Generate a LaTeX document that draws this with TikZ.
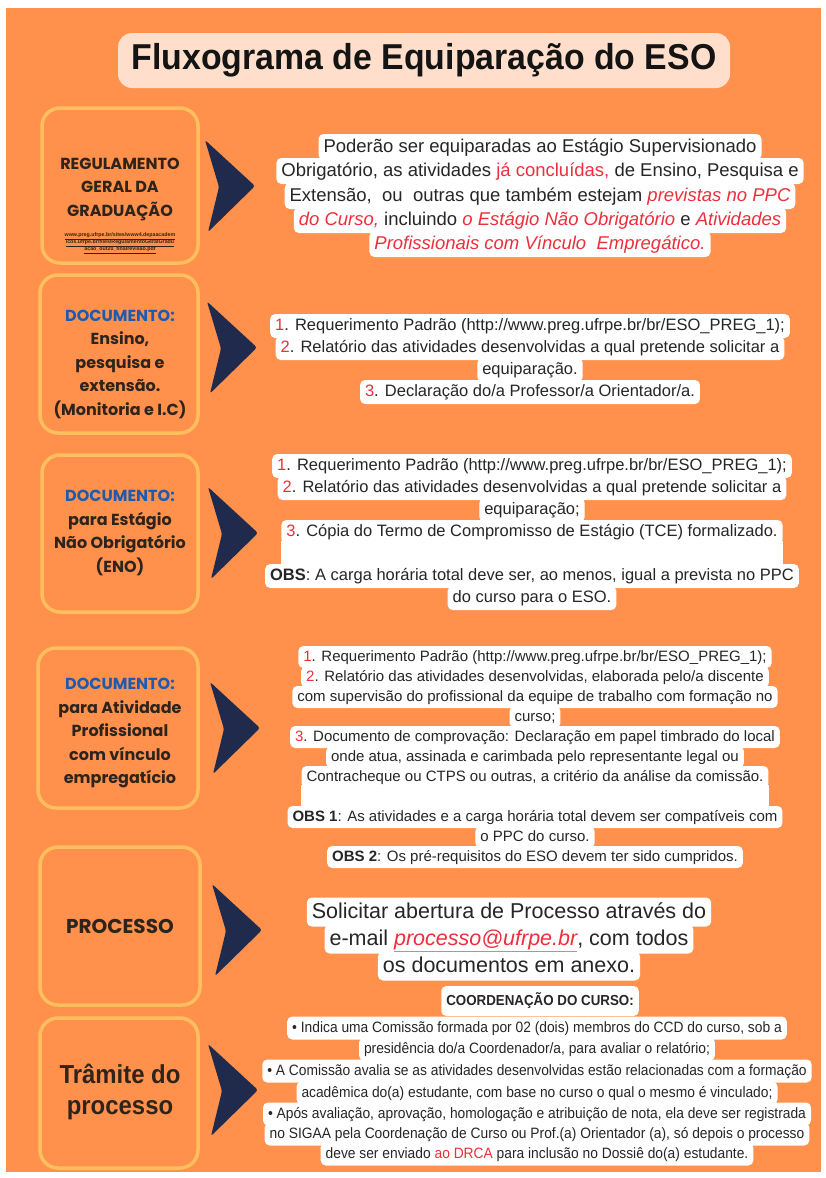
\documentclass[tikz,border=0pt]{standalone}
\usepackage{fontspec}
\setmainfont{Liberation Sans}
\newfontfamily\labfont{Poppins}
\newfontfamily\condfont[FakeStretch=0.92]{Liberation Sans}
\newfontfamily\titlefont[FakeStretch=0.94]{Liberation Sans}
\definecolor{bg}{HTML}{FF914D}
\definecolor{bord}{HTML}{FFBF5E}
\definecolor{navy}{HTML}{1F2A4D}
\definecolor{txt}{HTML}{262626}
\definecolor{labc}{HTML}{2E241C}
\definecolor{blu}{HTML}{1C5BAF}
\definecolor{rd}{HTML}{EC2F3C}
\definecolor{ttl}{HTML}{FFDFCB}
\newcommand\chev[2]{\fill[navy, rounded corners=2.5pt] (#1,#2-46) -- (#1+50,#2) -- (#1+3,#2+46) -- (#1+14,#2+1) -- cycle;}
\begin{document}
\begin{tikzpicture}[x=1pt,y=-1pt,
 lbox/.style={draw=bord, line width=3.5pt, fill=bg, rounded corners=18pt, inner sep=0pt},
 lab/.style={text=labc, align=center, font=\labfont\bfseries\fontsize{16}{23.5}\selectfont},
 hl/.style={fill=white, rounded corners=5pt, inner xsep=5pt, inner ysep=0pt, text=txt},
 t1/.style={hl, font=\fontsize{18.5}{24}\selectfont, minimum height=26pt, text height=13pt, text depth=2pt},
 t2/.style={hl, font=\fontsize{16.5}{22}\selectfont, minimum height=24pt, text height=11.5pt, text depth=1.6pt},
 t4/.style={hl, font=\fontsize{15}{20}\selectfont, minimum height=22pt, text height=10.5pt, text depth=1.5pt},
 t5/.style={hl, font=\fontsize{21.5}{27}\selectfont, minimum height=29pt, text height=15pt, text depth=2.2pt},
 t6/.style={hl, font=\condfont\fontsize{15}{21}\selectfont, minimum height=23pt, text height=10.5pt, text depth=1.5pt}
]
\useasboundingbox (0,0) rectangle (826,1178);
\fill[white] (0,0) rectangle (826,1178);
\fill[bg] (6,8) rectangle (821,1172);

% title
\node[fill=ttl, rounded corners=14pt, minimum width=612pt, minimum height=55pt, inner sep=0pt,
      font=\titlefont\bfseries\fontsize{36}{40}\selectfont, text=black!92] (title) at (424,60.5) {Fluxograma de Equiparação do ESO};

% left boxes
\node[lbox, minimum width=156pt, minimum height=155pt] (b1) at (120,185.5) {};
\node[lbox, minimum width=158pt, minimum height=158pt] (b2) at (119,354) {};
\node[lbox, minimum width=156pt, minimum height=157pt] (b3) at (120,533.5) {};
\node[lbox, minimum width=160pt, minimum height=160pt] (b4) at (118,728) {};
\node[lbox, minimum width=160pt, minimum height=158pt] (b5) at (120,926) {};
\node[lbox, minimum width=158pt, minimum height=150pt] (b6) at (119,1093) {};

\node[lab] (l1) at (120,189) {REGULAMENTO\\GERAL DA\\GRADUAÇÃO};
\node[text=labc, align=center, font=\bfseries\fontsize{5.3}{7}\selectfont] (url) at (120,243)
 {\underline{www.preg.ufrpe.br/sites/www4.depaacadem}\\\underline{icos.ufrpe.br/files/RegulamentoGeralGradu}\\\underline{acao\_out20\_finalrevisao.pdf}};
\node[lab] (l2) at (120,364) {\textcolor{blu}{DOCUMENTO:}\\Ensino,\\pesquisa e\\extensão.\\(Monitoria e I.C)};
\node[lab] (l3) at (120,533) {\textcolor{blu}{DOCUMENTO:}\\para Estágio\\Não Obrigatório\\(ENO)};
\node[lab] (l4) at (120,733) {\textcolor{blu}{DOCUMENTO:}\\para Atividade\\Profissional\\com vínculo\\empregatício};
\node[lab, font=\labfont\bfseries\fontsize{20}{24}\selectfont] (l5) at (120,926) {PROCESSO};
\node[lab, font=\condfont\bfseries\fontsize{26}{31}\selectfont] (l6) at (120,1092) {Trâmite do\\processo};

% arrows
\chev{205}{186}
\chev{207}{347.5}
\chev{208}{533}
\chev{210}{728}
\chev{212}{930}
\chev{208}{1090}

% text 1
\node[t1] (p1) at (540,147) {Poderão ser equiparadas ao Estágio Supervisionado};
\node[t1] (p2) at (540,171) {Obrigatório, as atividades \textcolor{rd}{já concluídas,} de Ensino, Pesquisa e};
\node[t1] (p3) at (540,196) {Extensão,\ \ ou\ \ outras que também estejam \textcolor{rd}{\itshape previstas no PPC}};
\node[t1] (p4) at (540,220) {\textcolor{rd}{\itshape do Curso,} incluindo \textcolor{rd}{\itshape o Estágio Não Obrigatório} e \textcolor{rd}{\itshape Atividades}};
\node[t1] (p5) at (540,244) {\textcolor{rd}{\itshape Profissionais com Vínculo\ \ Empregático.}};

% text 2
\node[t2] (q1) at (530,326) {\textcolor{rd}{1}. Requerimento Padrão (http://www.preg.ufrpe.br/br/ESO\_PREG\_1);};
\node[t2] (q2) at (530,348) {\textcolor{rd}{2}. Relatório das atividades desenvolvidas a qual pretende solicitar a};
\node[t2] (q3) at (530,370) {equiparação.};
\node[t2] (q4) at (530,392) {\textcolor{rd}{3}. Declaração do/a Professor/a Orientador/a.};

% text 3
\node[t2] (c1) at (532,466) {\textcolor{rd}{1}. Requerimento Padrão (http://www.preg.ufrpe.br/br/ESO\_PREG\_1);};
\node[t2] (c2) at (532,488) {\textcolor{rd}{2}. Relatório das atividades desenvolvidas a qual pretende solicitar a};
\node[t2] (c3) at (532,510) {equiparação;};
\node[t2] (c4) at (532,532) {\textcolor{rd}{3}. Cópia do Termo de Compromisso de Estágio (TCE) formalizado.};
\node[t2] (c6) at (532,576) {\textbf{OBS}: A carga horária total deve ser, ao menos, igual a prevista no PPC};
\node[t2] (c7) at (532,598) {do curso para o ESO.};
\fill[white] ([yshift=3pt]c4.south west) rectangle ([yshift=-3pt]c4.east |- c6.north);

% text 4
\node[t4] (d1) at (535,657) {\textcolor{rd}{1}. Requerimento Padrão (http://www.preg.ufrpe.br/br/ESO\_PREG\_1);};
\node[t4] (d2) at (535,677) {\textcolor{rd}{2}. Relatório das atividades desenvolvidas, elaborada pelo/a discente};
\node[t4] (d3) at (535,697) {com supervisão do profissional da equipe de trabalho com formação no};
\node[t4] (d4) at (535,717) {curso;};
\node[t4] (d5) at (535,737) {\textcolor{rd}{3}. Documento de comprovação: Declaração em papel timbrado do local};
\node[t4] (d6) at (535,757) {onde atua, assinada e carimbada pelo representante legal ou};
\node[t4] (d7) at (535,777) {Contracheque ou CTPS ou outras, a critério da análise da comissão.};
\node[t4] (d9) at (535,817) {\textbf{OBS 1}: As atividades e a carga horária total devem ser compatíveis com};
\node[t4] (d10) at (535,837) {o PPC do curso.};
\node[t4] (d11) at (535,857) {\textbf{OBS 2}: Os pré-requisitos do ESO devem ter sido cumpridos.};
\fill[white] ([yshift=3pt]d7.south west) rectangle ([yshift=-3pt]d7.east |- d9.north);

% text 5
\node[t5] (e1) at (509,912) {Solicitar abertura de Processo através do};
\node[t5] (e2) at (509,939) {e-mail \textcolor{rd}{\underline{\itshape processo@ufrpe.br}}, com todos};
\node[t5] (e3) at (509,966) {os documentos em anexo.};

% text 6
\node[t6, minimum height=30pt, font=\condfont\bfseries\fontsize{14.5}{21}\selectfont] (f0) at (540,1001) {COORDENAÇÃO DO CURSO:};
\node[t6] (f1) at (537,1028) {• Indica uma Comissão formada por 02 (dois) membros do CCD do curso, sob a};
\node[t6] (f2) at (537,1049) {presidência do/a Coordenador/a, para avaliar o relatório;};
\node[t6] (f3) at (537,1071) {• A Comissão avalia se as atividades desenvolvidas estão relacionadas com a formação};
\node[t6] (f4) at (537,1093) {acadêmica do(a) estudante, com base no curso o qual o mesmo é vinculado;};
\node[t6] (f5) at (537,1114) {• Após avaliação, aprovação, homologação e atribuição de nota, ela deve ser registrada};
\node[t6] (f6) at (537,1134) {no SIGAA pela Coordenação de Curso ou Prof.(a) Orientador (a), só depois o processo};
\node[t6] (f7) at (537,1154) {deve ser enviado \textcolor{rd}{ao DRCA} para inclusão no Dossiê do(a) estudante.};
\end{tikzpicture}
\end{document}
